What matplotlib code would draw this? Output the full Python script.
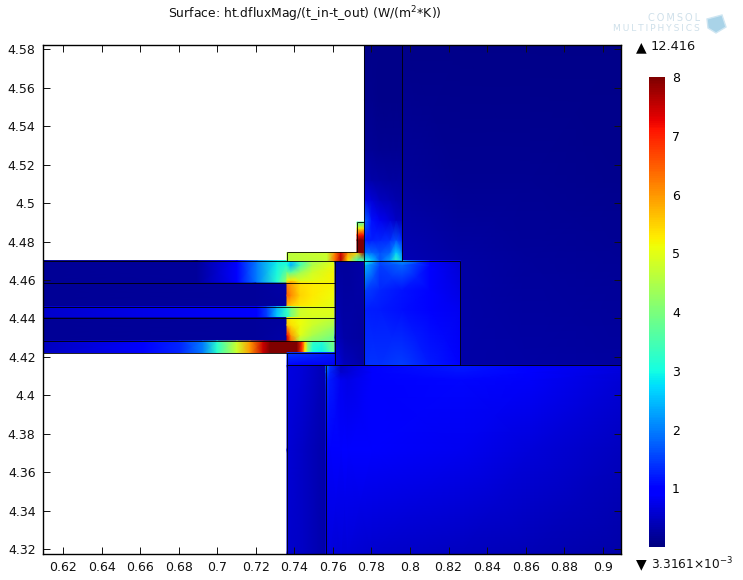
"""COMSOL style surface plot: heat flux magnitude over the frame section."""
import matplotlib
matplotlib.use("Agg")
import matplotlib.pyplot as plt
from matplotlib.patches import Polygon
from matplotlib.transforms import IdentityTransform

W, H = 743, 580
XMIN, XMAX = 0.60936, 0.90949
YMIN, YMAX = 4.31766, 4.58234
VMIN, VMAX = 0.0033161, 8

x_ticks = [0.62, 0.64, 0.66, 0.68, 0.7, 0.72, 0.74, 0.76, 0.78, 0.8, 0.82, 0.84, 0.86, 0.88, 0.9]
y_ticks = [4.32, 4.34, 4.36, 4.38, 4.4, 4.42, 4.44, 4.46, 4.48, 4.5, 4.52, 4.54, 4.56, 4.58]
cbar_ticks = [1, 2, 3, 4, 5, 6, 7, 8]

# each block: x nodes, y nodes (bottom to top), values per row
strip1_x = [XMIN, 0.6895, 0.7103, 0.7206, 0.7310, 0.7362]
strip1_y = [4.4584, 4.4701]
strip1_v = [[0.18, 0.22, 0.95, 2.0, 3.2, 4.4],
            [0.18, 0.22, 1.0, 2.0, 2.9, 3.0]]

strip2_x = [XMIN, 0.72, 0.7362]
strip2_y = [4.4462, 4.4584]
strip2_v = [[0.18, 0.2, 0.25],
            [0.18, 0.2, 0.3]]

strip3_x = [XMIN, 0.6615, 0.7206, 0.7258, 0.7310, 0.7362]
strip3_y = [4.4405, 4.4462]
strip3_v = [[0.55, 0.75, 1.0, 1.5, 2.6, 3.4],
            [0.55, 0.75, 1.0, 1.5, 2.4, 3.2]]

strip4_x = [XMIN, 0.72, 0.7362]
strip4_y = [4.4283, 4.4405]
strip4_v = [[0.18, 0.2, 0.3],
            [0.18, 0.2, 0.25]]

strip5_x = [XMIN, 0.6615, 0.6807, 0.6926, 0.6999, 0.7103, 0.7170, 0.7238, 0.7274,
            0.7414, 0.7440, 0.7456, 0.7471, 0.7497, 0.7544, 0.7585, 0.7611]
strip5_y = [4.4223, 4.4283]
strip5_v = [[0.45, 1.0, 1.3, 2.0, 3.2, 4.8, 6.0, 7.5, 8.4, 8.4, 6.8, 5.2, 4.0, 3.0, 2.9, 3.5, 3.8],
            [0.45, 1.0, 1.3, 2.0, 3.2, 4.8, 6.0, 7.5, 8.4, 8.4, 7.0, 5.4, 4.2, 3.3, 3.2, 3.8, 4.0]]

hot1_x = [0.7362, 0.7383, 0.7430, 0.7492, 0.7611]
hot1_y = [4.4584, 4.46, 4.4642, 4.4678, 4.4701]
hot1_v = [[5.6, 6.2, 5.3, 5.2, 5.2],
          [5.0, 5.3, 4.9, 5.0, 5.2],
          [3.8, 3.6, 4.3, 4.8, 5.2],
          [3.0, 2.4, 3.5, 4.5, 5.1],
          [3.0, 2.7, 3.5, 4.4, 4.9]]

hot2_x = [0.7362, 0.7383, 0.7430, 0.7492, 0.7611]
hot2_y = [4.4462, 4.452, 4.4584]
hot2_v = [[5.6, 5.5, 5.3, 5.2, 5.0],
          [6.5, 6.1, 5.5, 5.3, 5.1],
          [6.1, 5.9, 5.4, 5.3, 5.2]]

hot3_x = [0.7362, 0.7383, 0.7430, 0.7492, 0.7611]
hot3_y = [4.4405, 4.4462]
hot3_v = [[3.0, 4.0, 4.8, 4.9, 4.9],
          [3.4, 4.0, 4.8, 5.0, 5.0]]

hot4_x = [0.7362, 0.7383, 0.7430, 0.7492, 0.7611]
hot4_y = [4.4283, 4.4314, 4.4366, 4.4405]
hot4_v = [[7.6, 6.4, 4.5, 4.1, 3.8],
          [7.2, 6.0, 5.0, 4.5, 4.0],
          [5.6, 5.4, 5.1, 4.8, 4.4],
          [5.4, 5.2, 5.1, 4.9, 4.7]]

lower_x = [0.7362, 0.7611]
lower_y = [4.4156, 4.4223]
lower_v = [[0.9, 0.8],
           [1.5, 1.2]]

web_x = [0.7611, 0.7660, 0.7764]
web_y = [4.4156, 4.43, 4.4701]
web_v = [[0.75, 0.45, 0.3],
         [0.45, 0.3, 0.25],
         [0.25, 0.2, 0.3]]

tab_x = [0.7362, 0.7570, 0.7611, 0.7642, 0.7679, 0.7725, 0.7764]
tab_y = [4.4701, 4.4743]
tab_v = [[4.6, 4.7, 6.4, 7.6, 5.4, 3.4, 3.4],
         [4.6, 4.8, 6.2, 7.4, 6.0, 5.5, 8.0]]

fin_x = [0.7725, 0.7764]
fin_y = [4.4743, 4.4808, 4.4834, 4.487, 4.4901]
fin_v = [[8.2, 8.2],
         [8.0, 8.0],
         [7.0, 7.2],
         [5.0, 5.4],
         [3.4, 3.6]]

upper_x = [0.7764, 0.7772, 0.7803, 0.7845, 0.7896, 0.7928, 0.7961]
upper_y = [4.4701, 4.4743, 4.4808, 4.4912, 4.5016, 4.5119, 4.5275, 4.5535, YMAX]
upper_v = [[3.0, 3.0, 2.6, 1.7, 2.3, 3.3, 2.5],
           [1.9, 1.9, 1.8, 1.6, 1.8, 2.6, 2.0],
           [1.3, 1.2, 1.25, 1.3, 1.35, 1.6, 1.3],
           [1.9, 1.7, 1.1, 0.8, 0.65, 0.5, 0.45],
           [0.9, 0.75, 0.6, 0.45, 0.38, 0.33, 0.3],
           [0.35, 0.35, 0.3, 0.28, 0.25, 0.25, 0.25],
           [0.17, 0.17, 0.16, 0.15, 0.15, 0.14, 0.14],
           [0.1, 0.1, 0.1, 0.09, 0.09, 0.09, 0.09],
           [0.07, 0.07, 0.07, 0.07, 0.07, 0.07, 0.07]]

outer_x = [0.7961, 0.8262, 0.8623, XMAX]
outer_y = [4.4156, 4.4701, 4.5119, YMAX]
outer_v = [[0.3, 0.3, 0.28, 0.25],
           [0.38, 0.28, 0.2, 0.16],
           [0.2, 0.15, 0.13, 0.11],
           [0.07, 0.07, 0.07, 0.07]]

core_x = [0.7764, 0.7772, 0.7845, 0.7961, 0.8104, 0.8262]
core_y = [4.4156, 4.4444, 4.4548, 4.4678, 4.4701]
core_v = [[1.4, 1.4, 1.4, 1.5, 1.2, 1.0],
          [1.2, 1.25, 1.2, 1.1, 0.95, 0.8],
          [1.5, 1.5, 1.3, 1.15, 0.9, 0.7],
          [2.5, 2.4, 1.5, 1.8, 0.95, 0.6],
          [3.4, 3.0, 1.6, 2.2, 1.0, 0.6]]

base_x = [0.7362, 0.7450, 0.7564]
base_y = [YMIN, 4.3717, 4.4156]
base_v = [[0.55, 0.5, 0.3],
          [0.6, 0.5, 0.3],
          [0.7, 0.6, 0.35]]

floor_x = [0.7564, 0.7585, 0.7642, 0.7679, 0.7803, 0.8262, 0.8623, XMAX]
floor_y = [YMIN, 4.3717, 4.4081, 4.4122, 4.4156]
floor_v = [[0.65, 0.65, 0.62, 0.6, 0.55, 0.45, 0.38, 0.3],
           [0.95, 0.95, 0.95, 0.95, 0.95, 0.8, 0.65, 0.45],
           [1.4, 1.2, 0.8, 0.75, 0.95, 1.05, 0.85, 0.6],
           [1.8, 1.3, 0.55, 0.6, 0.95, 1.15, 0.9, 0.65],
           [2.2, 1.4, 0.5, 0.6, 1.0, 1.2, 0.95, 0.7]]

blocks = [
    (strip1_x, strip1_y, strip1_v), (strip2_x, strip2_y, strip2_v),
    (strip3_x, strip3_y, strip3_v), (strip4_x, strip4_y, strip4_v),
    (strip5_x, strip5_y, strip5_v), (hot1_x, hot1_y, hot1_v),
    (hot2_x, hot2_y, hot2_v), (hot3_x, hot3_y, hot3_v),
    (hot4_x, hot4_y, hot4_v), (lower_x, lower_y, lower_v),
    (web_x, web_y, web_v), (tab_x, tab_y, tab_v), (fin_x, fin_y, fin_v),
    (upper_x, upper_y, upper_v), (outer_x, outer_y, outer_v),
    (core_x, core_y, core_v), (base_x, base_y, base_v),
    (floor_x, floor_y, floor_v),
]

# domain boundaries: (x0, x1, y0, y1)
edges = [
    (XMIN, 0.8262, 4.4701, 4.4701), (XMIN, 0.7611, 4.4584, 4.4584),
    (XMIN, 0.7611, 4.4462, 4.4462), (XMIN, 0.7611, 4.4405, 4.4405),
    (XMIN, 0.7611, 4.4283, 4.4283), (XMIN, 0.7611, 4.4223, 4.4223),
    (0.7362, XMAX, 4.4156, 4.4156), (0.7362, 0.7725, 4.4743, 4.4743),
    (0.7725, 0.7764, 4.4901, 4.4901), (0.7362, 0.7362, YMIN, 4.4223),
    (0.7362, 0.7362, 4.4701, 4.4743), (0.7564, 0.7564, YMIN, 4.4156),
    (0.7611, 0.7611, 4.4156, 4.4701), (0.7725, 0.7725, 4.4743, 4.4901),
    (0.7764, 0.7764, 4.4156, YMAX), (0.7961, 0.7961, 4.4701, YMAX),
    (0.8262, 0.8262, 4.4156, 4.4701),
]


def px_rect(left, top, right, bottom):
    return [left / W, 1 - bottom / H, (right - left) / W, (bottom - top) / H]


plt.rcParams["font.family"] = ["DejaVu Sans"]
fig = plt.figure(figsize=(W / 100, H / 100), dpi=100, facecolor="white")
ax = fig.add_axes(px_rect(42.5, 44.5, 621, 554))

mesh = None
for bx, by, bv in blocks:
    mesh = ax.pcolormesh(bx, by, bv, shading="gouraud", cmap="jet", vmin=VMIN, vmax=VMAX,
                         antialiased=False, rasterized=True)
for x0, x1, y0, y1 in edges:
    ax.plot([x0, x1], [y0, y1], color="black", lw=0.6, solid_capstyle="butt")

ax.set_xlim(XMIN, XMAX)
ax.set_ylim(YMIN, YMAX)
ax.set_xticks(x_ticks)
ax.set_xticklabels([f"{t:g}" for t in x_ticks])
ax.set_yticks(y_ticks)
ax.set_yticklabels([f"{t:g}" for t in y_ticks])
ax.tick_params(direction="in", top=True, right=True, length=5, width=0.7,
               labelsize=9, pad=5, colors="#111111")
for spine in ax.spines.values():
    spine.set_linewidth(1.0)

cax = fig.add_axes(px_rect(649, 77, 665, 547))
cbar = fig.colorbar(mesh, cax=cax)
cbar.set_ticks(cbar_ticks)
cbar.set_ticklabels([str(t) for t in cbar_ticks])
cbar.ax.tick_params(length=0, labelsize=9, pad=5)
cbar.outline.set_visible(False)


def px_text(x, y, s, **kw):
    return fig.text(x / W, 1 - y / H, s, **kw)


px_text(305, 14.5, "Surface: ht.dfluxMag/(t_in-t_out) (W/(m$^2$*K))", ha="center", va="center",
        fontsize=8.9, color="#111111")
px_text(641, 47, "\u25b2", ha="center", va="center", fontsize=10, color="black")
px_text(651, 47, "12.416", ha="left", va="center", fontsize=9.3, color="#111111")
px_text(641, 564, "\u25bc", ha="center", va="center", fontsize=10, color="black")
px_text(651, 564, "3.3161\u00d710$^{-3}$", ha="left", va="center", fontsize=8.7, color="#111111")

# faint logo, top right; thin spaces widen the lettering
px_text(700, 18, "\u2009".join("COMSOL"), ha="right", va="center", fontsize=7, color="#cfe0ea")
px_text(700, 28.5, "\u2009".join("MULTIPHYSICS"), ha="right", va="center", fontsize=6.6, color="#cfe0ea")
logo = Polygon([(707, H - 19), (722, H - 15), (726, H - 27), (716, H - 33), (708, H - 28)],
               closed=True, transform=IdentityTransform(), facecolor="#a9d3e8", edgecolor="#cfe6f2")
fig.add_artist(logo)

fig.savefig("out.png", dpi=100)
